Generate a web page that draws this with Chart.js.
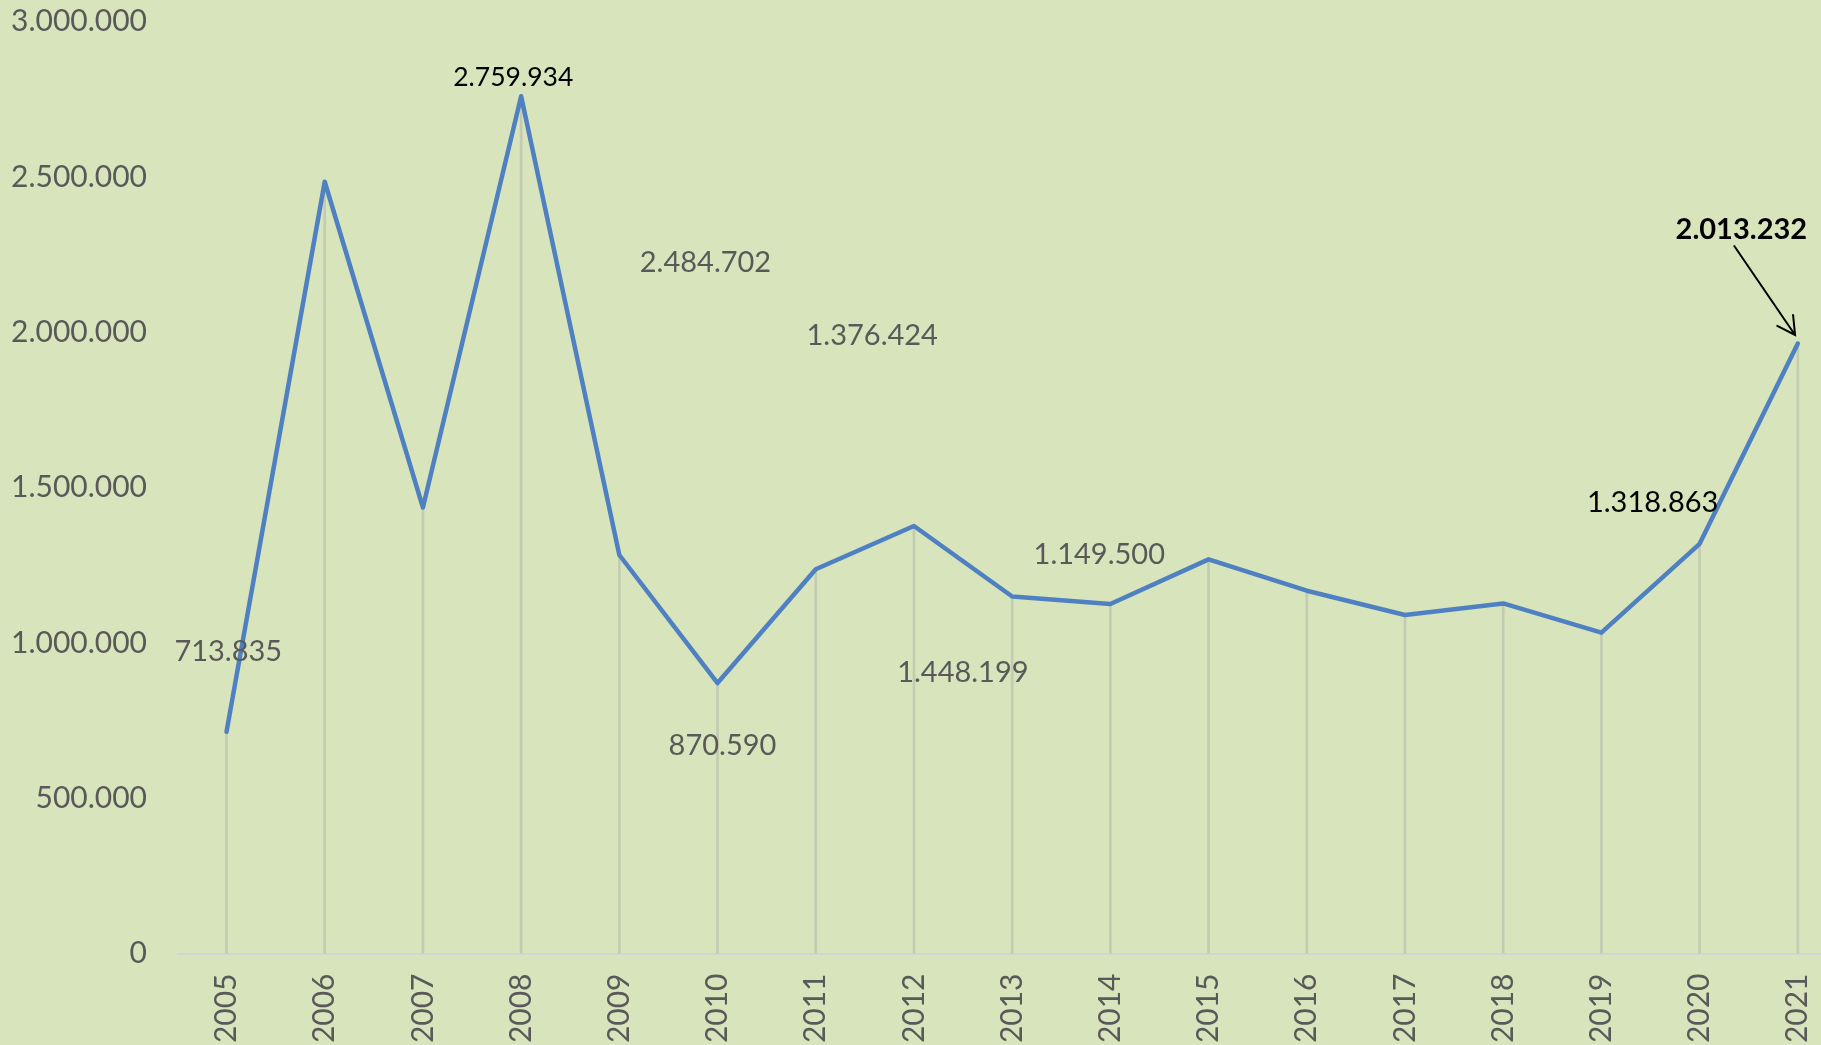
<!DOCTYPE html>
<html>
<head>
<meta charset="utf-8">
<script src="https://cdn.jsdelivr.net/npm/chart.js@4.4.1/dist/chart.umd.min.js"></script>
<style>
  html, body { margin: 0; padding: 0; background: #d8e4bc; overflow: hidden; }
  #wrap { width: 1821px; height: 1045px; }
</style>
</head>
<body>
<div id="wrap"><canvas id="c" width="1821" height="1045"></canvas></div>
<script>
// ---- data ----
const years = [2005, 2006, 2007, 2008, 2009, 2010, 2011, 2012, 2013, 2014, 2015, 2016, 2017, 2018, 2019, 2020, 2021];
const values = [713835, 2484702, 1436000, 2759934, 1283000, 870590, 1237000, 1376424, 1149500, 1125000, 1269000, 1168000, 1090000, 1127000, 1033000, 1318863, 1964000];
const yTicks = [0, 500000, 1000000, 1500000, 2000000, 2500000, 3000000];

// text notes placed in data coordinates
const noteTexts = ['713.835', '2.484.702', '1.376.424', '1.149.500', '1.448.199', '870.590', '2.759.934', '1.318.863', '2.013.232'];
const noteX = [2005.018, 2009.877, 2011.575, 2013.887, 2012.498, 2010.050, 2007.920, 2019.522, 2020.425];
const noteY = [971700, 2225400, 1988100, 1283000, 904700, 669400, 2821000, 1451400, 2329400];
const noteStyle = ['gray', 'gray', 'gray', 'gray', 'gray', 'gray', 'blackSmall', 'black', 'bold'];
const arrowFrom = [2020.353, 2277800];
const arrowTo = [2020.972, 1991300];

const fmt = v => String(Math.round(v)).replace(/\B(?=(\d{3})+(?!\d))/g, '.');
const FONT = 'Lato, "Open Sans", "Liberation Sans", sans-serif';

const bgPlugin = {
  id: 'bg',
  beforeDraw(chart) {
    const ctx = chart.ctx;
    ctx.save();
    ctx.fillStyle = '#d8e4bc';
    ctx.fillRect(0, 0, chart.width, chart.height);
    ctx.restore();
  }
};

const notesPlugin = {
  id: 'notes',
  afterDatasetsDraw(chart) {
    const ctx = chart.ctx;
    const xs = chart.scales.x, ys = chart.scales.y;
    ctx.save();
    ctx.textAlign = 'center';
    ctx.textBaseline = 'middle';
    noteTexts.forEach((t, i) => {
      const st = noteStyle[i];
      if (st === 'gray') { ctx.fillStyle = '#595959'; ctx.font = '29px ' + FONT; }
      else if (st === 'blackSmall') { ctx.fillStyle = '#000000'; ctx.font = '26.5px ' + FONT; }
      else if (st === 'black') { ctx.fillStyle = '#000000'; ctx.font = '29px ' + FONT; }
      else { ctx.fillStyle = '#000000'; ctx.font = 'bold 29px ' + FONT; }
      ctx.fillText(t, xs.getPixelForValue(noteX[i]), ys.getPixelForValue(noteY[i]));
    });
    // arrow
    const x1 = xs.getPixelForValue(arrowFrom[0]), y1 = ys.getPixelForValue(arrowFrom[1]);
    const x2 = xs.getPixelForValue(arrowTo[0]), y2 = ys.getPixelForValue(arrowTo[1]);
    ctx.strokeStyle = '#000000';
    ctx.lineWidth = 2;
    ctx.lineCap = 'round';
    ctx.beginPath();
    ctx.moveTo(x1, y1);
    ctx.lineTo(x2, y2);
    const ang = Math.atan2(y2 - y1, x2 - x1);
    const hl = 20, ha = 0.5;
    ctx.moveTo(x2 - hl * Math.cos(ang - ha), y2 - hl * Math.sin(ang - ha));
    ctx.lineTo(x2, y2);
    ctx.lineTo(x2 - hl * Math.cos(ang + ha), y2 - hl * Math.sin(ang + ha));
    ctx.stroke();
    ctx.restore();
  }
};

const points = years.map((y, i) => ({ x: y, y: values[i] }));

new Chart(document.getElementById('c'), {
  type: 'line',
  data: {
    datasets: [
      {
        type: 'line',
        data: points,
        borderColor: '#4f81c2',
        borderWidth: 4.5,
        pointRadius: 0,
        tension: 0,
        borderJoinStyle: 'round',
        borderCapStyle: 'round',
        fill: false,
        clip: false,
        order: 0
      },
      {
        type: 'bar',
        data: points,
        backgroundColor: '#c3cbb1',
        borderWidth: 0,
        barThickness: 2,
        order: 1
      }
    ]
  },
  options: {
    responsive: false,
    animation: false,
    events: [],
    layout: { padding: { top: 21.7, right: 0, bottom: 0, left: 0 } },
    plugins: { legend: { display: false }, tooltip: { enabled: false } },
    scales: {
      x: {
        type: 'linear',
        min: 2004.506,
        max: 2021.236,
        offset: false,
        grid: { display: false, drawTicks: false },
        border: { display: true, color: '#d4d4d4', width: 2 },
        afterBuildTicks: s => { s.ticks = years.map(v => ({ value: v })); },
        afterFit: s => { s.height = 91.5; s.paddingLeft = 0; s.paddingRight = 0; },
        ticks: {
          autoSkip: false,
          maxRotation: 90,
          minRotation: 90,
          padding: 20,
          color: '#595959',
          font: { family: FONT, size: 30 },
          callback: v => String(v)
        }
      },
      y: {
        min: 0,
        max: 3000000,
        grid: { display: false, drawTicks: false },
        border: { display: false },
        afterBuildTicks: s => { s.ticks = yTicks.map(v => ({ value: v })); },
        afterFit: s => { s.width = 178; s.paddingTop = 0; s.paddingBottom = 0; },
        ticks: {
          padding: 31,
          color: '#595959',
          font: { family: FONT, size: 30 },
          callback: v => fmt(v)
        }
      }
    }
  },
  plugins: [bgPlugin, notesPlugin]
});
</script>
</body>
</html>
